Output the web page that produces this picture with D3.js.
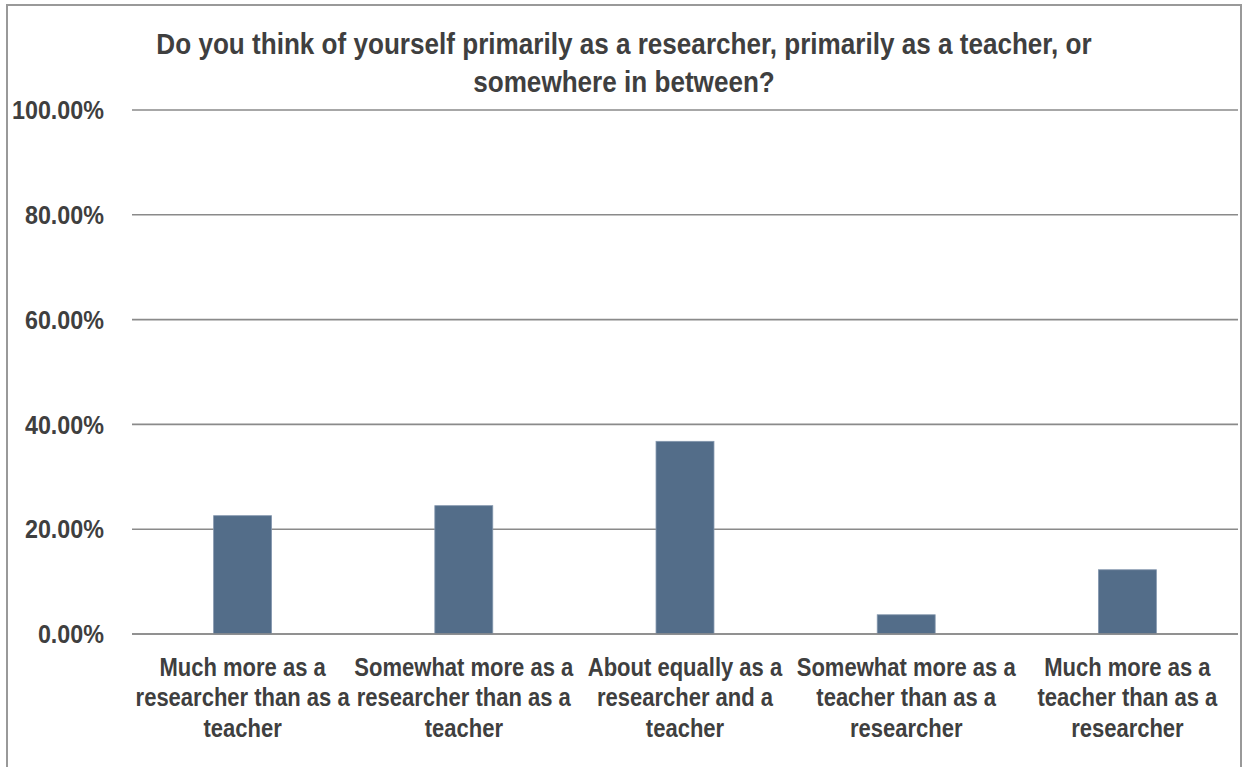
<!DOCTYPE html>
<html>
<head>
<meta charset="utf-8">
<script src="https://cdn.jsdelivr.net/npm/d3@7"></script>
<style>
  html, body { margin: 0; padding: 0; background: #ffffff; }
  svg { display: block; }
  text { font-family: "Liberation Sans", Arial, sans-serif; font-weight: bold; fill: #3f3f3f; }
</style>
</head>
<body>
<svg id="chart" width="1244" height="767"></svg>
<script>
const titleLines = ["Do you think of yourself primarily as a researcher, primarily as a teacher, or", "somewhere in between?"];
const categories = [
  "Much more as a\nresearcher than as a\nteacher",
  "Somewhat more as a\nresearcher than as a\nteacher",
  "About equally as a\nresearcher and a\nteacher",
  "Somewhat more as a\nteacher than as a\nresearcher",
  "Much more as a\nteacher than as a\nresearcher"
];
const values = [0.2258, 0.2449, 0.3677, 0.0367, 0.1226];
const yTicks = [0, 0.2, 0.4, 0.6, 0.8, 1.0];

const W = 1244, H = 767;
const svg = d3.select("#chart");
const plot = { left: 132, right: 1238, top: 110, bottom: 634 };

// frame
svg.append("rect").attr("x", 7).attr("y", 5).attr("width", 1234).attr("height", 800)
  .attr("fill", "#fff").attr("stroke", "#999").attr("stroke-width", 2);

const x = d3.scaleBand().domain(categories).range([plot.left, plot.right])
  .paddingInner(0.738).paddingOuter(0.369);
const y = d3.scaleLinear().domain([0, 1]).range([plot.bottom, plot.top]);

// gridlines
svg.append("g").selectAll("line").data(yTicks).join("line")
  .attr("x1", plot.left).attr("x2", plot.right)
  .attr("y1", d => y(d)).attr("y2", d => y(d))
  .attr("stroke", "#8a8a8a").attr("stroke-width", 1.6);

// y labels
const fmt = d3.format(".2%");
svg.append("g").selectAll("text").data(yTicks).join("text")
  .attr("transform", d => `translate(104,${y(d)}) scale(0.88,1)`)
  .attr("text-anchor", "end").attr("dy", "0.35em")
  .attr("font-size", 26.5)
  .text(d => fmt(d));

// bars
svg.append("g").selectAll("rect").data(values).join("rect")
  .attr("x", (d, i) => x(categories[i]))
  .attr("width", x.bandwidth())
  .attr("y", d => y(d))
  .attr("height", d => y(0) - y(d))
  .attr("fill", "#536d89").attr("stroke", "#8497ae").attr("stroke-width", 0.8);

// redraw baseline over bars
svg.append("line").attr("x1", plot.left).attr("x2", plot.right)
  .attr("y1", y(0)).attr("y2", y(0)).attr("stroke", "#8a8a8a").attr("stroke-width", 1.6);

// x labels
const xl = svg.append("g").selectAll("text").data(categories).join("text")
  .attr("transform", d => `translate(${x(d) + x.bandwidth() / 2},676) scale(0.87,1)`)
  .attr("text-anchor", "middle").attr("font-size", 25.3);
xl.selectAll("tspan").data(d => d.split("\n")).join("tspan")
  .attr("x", 0).attr("y", (d, i) => i * 30.5).text(d => d);

// title
const t = svg.append("text")
  .attr("transform", `translate(624,54) scale(0.9,1)`)
  .attr("text-anchor", "middle").attr("font-size", 29);
t.selectAll("tspan").data(titleLines).join("tspan")
  .attr("x", 0).attr("y", (d, i) => i * 38).text(d => d);
</script>
</body>
</html>
